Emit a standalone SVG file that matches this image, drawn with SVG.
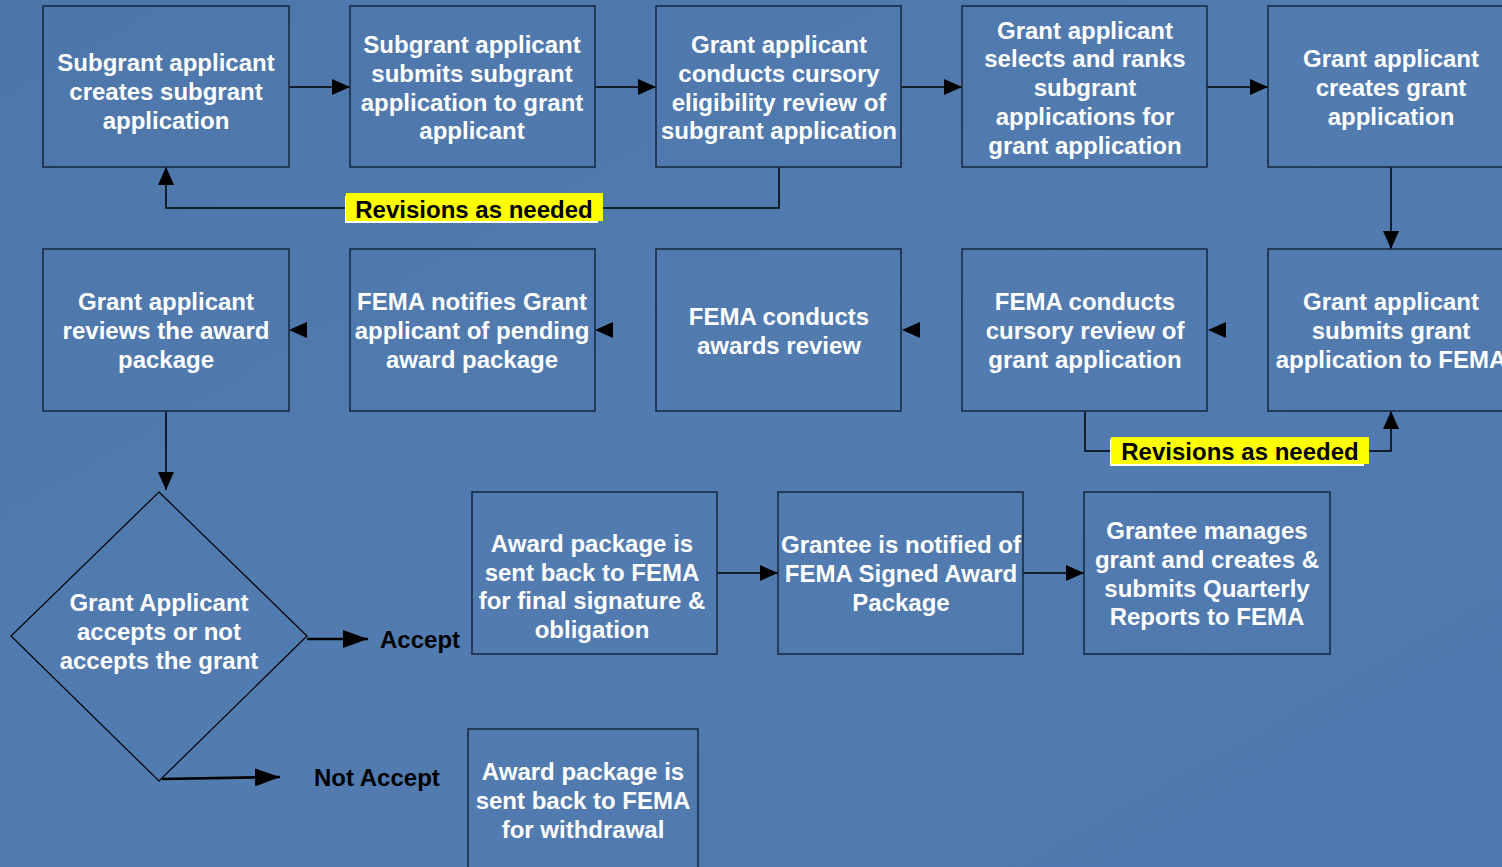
<svg xmlns="http://www.w3.org/2000/svg" width="1502" height="867" viewBox="0 0 1502 867">
<defs>
<linearGradient id="bg" x1="0" y1="0" x2="1" y2="1">
<stop offset="0" stop-color="#4d77ab"/>
<stop offset="0.5" stop-color="#527cb0"/>
<stop offset="1" stop-color="#4f79ae"/>
</linearGradient>
<marker id="ah" viewBox="0 0 18 16" refX="18" refY="8" markerWidth="18" markerHeight="16" markerUnits="userSpaceOnUse" orient="auto">
<path d="M0,0 L18,8 L0,16 Z" fill="#000"/>
</marker>
<marker id="ah2" viewBox="0 0 25 18" refX="25" refY="9" markerWidth="25" markerHeight="18" markerUnits="userSpaceOnUse" orient="auto">
<path d="M0,0 L25,9 L0,18 Z" fill="#000"/>
</marker>
<style>
.box{fill:none;stroke:#1b2a44;stroke-width:1.6}
.t{font-family:"Liberation Sans",Arial,sans-serif;font-weight:bold;font-size:24px;fill:#fff;text-anchor:middle}
.k{font-family:"Liberation Sans",Arial,sans-serif;font-weight:bold;font-size:24px;fill:#000}
.c{fill:none;stroke:#000;stroke-width:1.5}
.ca{fill:none;stroke:#000;stroke-width:1.5;marker-end:url(#ah)}
.cb{fill:none;stroke:#000;stroke-width:2.6;marker-end:url(#ah2)}
.hd{fill:#000}
</style>
</defs>
<rect width="1502" height="867" fill="url(#bg)"/>

<g id="connectors">
<path class="ca" d="M289,87 H350"/>
<path class="ca" d="M595,87 H656"/>
<path class="ca" d="M901,87 H962"/>
<path class="ca" d="M1207,87 H1268"/>
<path class="ca" d="M1391,167 V249"/>
<path class="ca" d="M779,167 V208 H166 V167"/>
<path class="ca" d="M1085,411 V451 H1391 V411"/>
<polygon class="hd" points="289,330 307,322 307,338"/>
<polygon class="hd" points="595,330 613,322 613,338"/>
<polygon class="hd" points="902,330 920,322 920,338"/>
<polygon class="hd" points="1208,330 1226,322 1226,338"/>
<path class="ca" d="M166,411 V490"/>
<path class="cb" d="M307,639 L368,639"/>
<path class="cb" d="M162,779 L280,777"/>
<path class="ca" d="M717,573 H778"/>
<path class="ca" d="M1023,573 H1084"/>
</g>

<g id="label-revisions-1">
<rect x="345" y="196" width="253" height="27" fill="#fff"/>
<rect x="346" y="193" width="257" height="28" fill="#ffff00"/>
<text class="k" x="474" y="218" text-anchor="middle">Revisions as needed</text>
</g>
<g id="label-revisions-2">
<rect x="1110" y="439" width="254" height="27" fill="#fff"/>
<rect x="1111" y="437" width="258" height="27" fill="#ffff00"/>
<text class="k" x="1240" y="460" text-anchor="middle">Revisions as needed</text>
</g>

<g id="n1"><rect class="box" x="43" y="6" width="246" height="161"/>
<text class="t" x="166" y="71">Subgrant applicant</text><text class="t" x="166" y="100">creates subgrant</text><text class="t" x="166" y="129">application</text></g>
<g id="n2"><rect class="box" x="350" y="6" width="245" height="161"/>
<text class="t" x="472" y="53">Subgrant applicant</text><text class="t" x="472" y="82">submits subgrant</text><text class="t" x="472" y="111">application to grant</text><text class="t" x="472" y="139">applicant</text></g>
<g id="n3"><rect class="box" x="656" y="6" width="245" height="161"/>
<text class="t" x="779" y="53">Grant applicant</text><text class="t" x="779" y="82">conducts cursory</text><text class="t" x="779" y="111">eligibility review of</text><text class="t" x="779" y="139">subgrant application</text></g>
<g id="n4"><rect class="box" x="962" y="6" width="245" height="161"/>
<text class="t" x="1085" y="39">Grant applicant</text><text class="t" x="1085" y="67">selects and ranks</text><text class="t" x="1085" y="96">subgrant</text><text class="t" x="1085" y="125">applications for</text><text class="t" x="1085" y="154">grant application</text></g>
<g id="n5"><rect class="box" x="1268" y="6" width="250" height="161"/>
<text class="t" x="1391" y="67">Grant applicant</text><text class="t" x="1391" y="96">creates grant</text><text class="t" x="1391" y="125">application</text></g>

<g id="n6"><rect class="box" x="1268" y="249" width="250" height="162"/>
<text class="t" x="1391" y="310">Grant applicant</text><text class="t" x="1391" y="339">submits grant</text><text class="t" x="1391" y="368">application to FEMA</text></g>
<g id="n7"><rect class="box" x="962" y="249" width="245" height="162"/>
<text class="t" x="1085" y="310">FEMA conducts</text><text class="t" x="1085" y="339">cursory review of</text><text class="t" x="1085" y="368">grant application</text></g>
<g id="n8"><rect class="box" x="656" y="249" width="245" height="162"/>
<text class="t" x="779" y="325">FEMA conducts</text><text class="t" x="779" y="354">awards review</text></g>
<g id="n9"><rect class="box" x="350" y="249" width="245" height="162"/>
<text class="t" x="472" y="310">FEMA notifies Grant</text><text class="t" x="472" y="339">applicant of pending</text><text class="t" x="472" y="368">award package</text></g>
<g id="n10"><rect class="box" x="43" y="249" width="246" height="162"/>
<text class="t" x="166" y="310">Grant applicant</text><text class="t" x="166" y="339">reviews the award</text><text class="t" x="166" y="368">package</text></g>

<g id="n11"><polygon points="159,492 307,636 159,781 11,636" fill="none" stroke="#000" stroke-width="1.2"/>
<text class="t" x="159" y="611">Grant Applicant</text><text class="t" x="159" y="640">accepts or not</text><text class="t" x="159" y="669">accepts the grant</text></g>

<g id="label-accept"><text class="k" x="380" y="648">Accept</text></g>
<g id="label-not-accept"><text class="k" x="314" y="786">Not Accept</text></g>

<g id="n12"><rect class="box" x="472" y="492" width="245" height="162"/>
<text class="t" x="592" y="552">Award package is</text><text class="t" x="592" y="581">sent back to FEMA</text><text class="t" x="592" y="609">for final signature &amp;</text><text class="t" x="592" y="638">obligation</text></g>
<g id="n13"><rect class="box" x="778" y="492" width="245" height="162"/>
<text class="t" x="901" y="553">Grantee is notified of</text><text class="t" x="901" y="582">FEMA Signed Award</text><text class="t" x="901" y="611">Package</text></g>
<g id="n14"><rect class="box" x="1084" y="492" width="246" height="162"/>
<text class="t" x="1207" y="539">Grantee manages</text><text class="t" x="1207" y="568">grant and creates &amp;</text><text class="t" x="1207" y="597">submits Quarterly</text><text class="t" x="1207" y="625">Reports to FEMA</text></g>

<g id="n15"><rect class="box" x="468" y="729" width="230" height="150"/>
<text class="t" x="583" y="780">Award package is</text><text class="t" x="583" y="809">sent back to FEMA</text><text class="t" x="583" y="838">for withdrawal</text></g>
</svg>
